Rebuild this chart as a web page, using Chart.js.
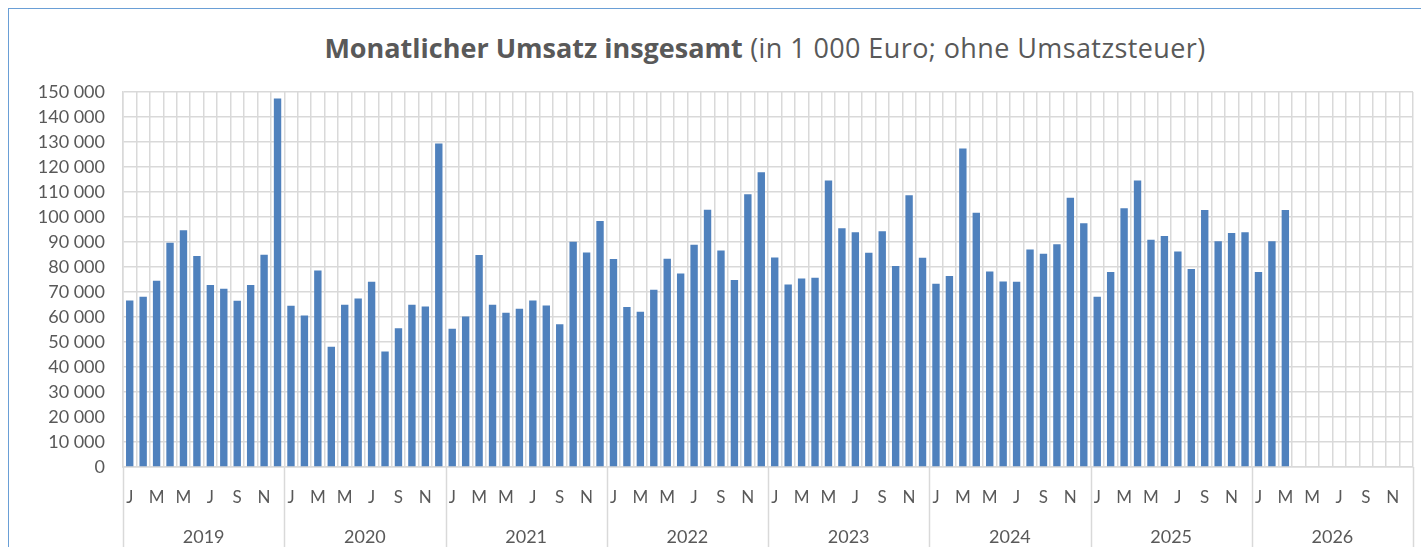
<!DOCTYPE html>
<html lang="de">
<head>
<meta charset="utf-8">
<title>Monatlicher Umsatz insgesamt</title>
<script src="https://cdn.jsdelivr.net/npm/chart.js@4/dist/chart.umd.min.js"></script>
<style>
  html, body { margin: 0; padding: 0; background: #fff; }
  .wrap { position: relative; width: 1421px; height: 547px; overflow: hidden; }
  .frame {
    position: absolute; left: 8px; top: 8px; right: 0; bottom: 0;
    border-top: 1.5px solid #6a9fd6; border-left: 1.5px solid #6a9fd6;
  }
  .title {
    position: absolute; left: 0; width: 1530px; top: 30px; text-align: center;
    font-family: "Open Sans", sans-serif; font-size: 27px; color: #595959;
    line-height: 36px; white-space: nowrap; letter-spacing: 0.4px;
  }
  .title b { font-weight: 700; letter-spacing: 0; }
  canvas { position: absolute; left: 0; top: 0; }
</style>
</head>
<body>
<div class="wrap">
  <div class="frame"></div>
  <div class="title"><b>Monatlicher Umsatz insgesamt</b> (in 1 000 Euro; ohne Umsatzsteuer)</div>
  <canvas id="umsatzChart" width="1421" height="547"></canvas>
</div>
<script>
// month letters, one per category
const months = ['J', 'F', 'M', 'A', 'M', 'J', 'J', 'A', 'S', 'O', 'N', 'D'];
const years = ['2019', '2020', '2021', '2022', '2023', '2024', '2025', '2026'];

// Umsatz in 1 000 Euro
const v2019 = [66600, 68100, 74500, 89700, 94700, 84400, 72800, 71300, 66500, 72800, 84900, 147400];
const v2020 = [64500, 60600, 78600, 48100, 64900, 67400, 74100, 46200, 55500, 64900, 64200, 129400];
const v2021 = [55300, 60200, 84800, 64900, 61700, 63300, 66600, 64600, 57100, 90100, 85800, 98400];
const v2022 = [83200, 64000, 62100, 70900, 83300, 77400, 88900, 102900, 86600, 74800, 109100, 117900];
const v2023 = [83800, 73000, 75400, 75700, 114600, 95500, 93900, 85700, 94300, 80400, 108700, 83700];
const v2024 = [73300, 76400, 127400, 101700, 78200, 74200, 74100, 87000, 85300, 89100, 107700, 97500];
const v2025 = [68100, 78000, 103500, 114600, 90900, 92400, 86200, 79200, 102800, 90300, 93600, 93900];
const v2026 = [78000, 90300, 102800, null, null, null, null, null, null, null, null, null];

const yTicks = { min: 0, max: 150000, step: 10000 };

document.addEventListener('DOMContentLoaded', function () {
  const labels = [];
  years.forEach(() => months.forEach(m => labels.push(m)));
  const values = [].concat(v2019, v2020, v2021, v2022, v2023, v2024, v2025, v2026);

  const gridColor = '#d9d9d9';
  const textColor = '#595959';

  // lines between the years, below the plot
  const yearSeparators = {
    id: 'yearSeparators',
    afterDraw(chart) {
      const x = chart.scales.x;
      const ctx = chart.ctx;
      const half = (x.getPixelForValue(1) - x.getPixelForValue(0)) / 2;
      ctx.save();
      ctx.strokeStyle = gridColor;
      ctx.lineWidth = 1.5;
      for (let i = 0; i <= years.length; i++) {
        const px = Math.round(x.getPixelForValue(i * months.length) - half) + 0.5;
        ctx.beginPath();
        ctx.moveTo(px, chart.chartArea.bottom);
        ctx.lineTo(px, chart.height);
        ctx.stroke();
      }
      ctx.restore();
    }
  };

  const noSidePadding = axis => { axis.paddingLeft = 0; axis.paddingRight = 0; };

  const ctx = document.getElementById('umsatzChart').getContext('2d');
  new Chart(ctx, {
    type: 'bar',
    data: {
      labels: labels,
      datasets: [{
        data: values,
        backgroundColor: '#4f81bd',
        borderWidth: 0,
        barPercentage: 0.55,
        categoryPercentage: 1
      }]
    },
    options: {
      responsive: false,
      animation: false,
      layout: { padding: { top: 92, right: 8, bottom: 0, left: 0 } },
      plugins: { legend: { display: false }, tooltip: { enabled: false }, title: { display: false } },
      scales: {
        y: {
          min: yTicks.min,
          max: yTicks.max,
          ticks: {
            stepSize: yTicks.step,
            padding: 18,
            color: textColor,
            font: { family: 'Lato', size: 18 },
            callback: v => String(v).replace(/\B(?=(\d{3})+(?!\d))/g, ' ')
          },
          grid: { color: gridColor, lineWidth: 1.5, drawTicks: false },
          border: { color: gridColor, width: 1.5 },
          afterFit: axis => { axis.width = 123; }
        },
        x: {
          ticks: {
            autoSkip: false,
            maxRotation: 0,
            padding: 20,
            color: textColor,
            font: { family: 'Lato', size: 17 },
            callback: function (val, index) {
              return index % 2 === 0 ? this.getLabelForValue(val) : '';
            }
          },
          grid: { offset: true, color: gridColor, lineWidth: 1.5, drawTicks: false },
          border: { color: gridColor, width: 1.5 },
          afterFit: axis => { axis.height = 50; noSidePadding(axis); }
        },
        x2: {
          type: 'category',
          labels: years,
          position: 'bottom',
          offset: true,
          ticks: {
            maxRotation: 0,
            padding: 1,
            color: textColor,
            font: { family: 'Lato', size: 18 }
          },
          grid: { display: false },
          border: { display: false },
          afterFit: axis => { axis.height = 30; noSidePadding(axis); }
        }
      }
    },
    plugins: [yearSeparators]
  });
});
</script>
</body>
</html>
